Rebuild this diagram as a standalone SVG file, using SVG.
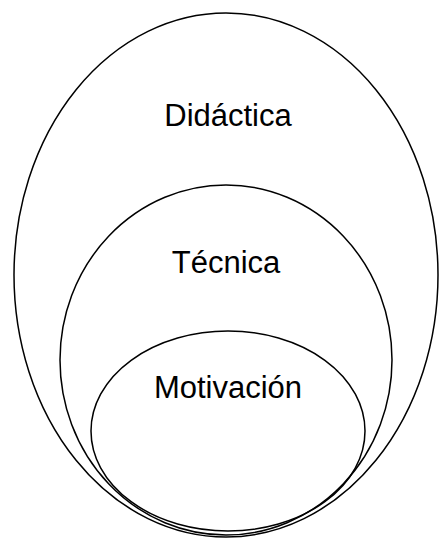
<svg xmlns="http://www.w3.org/2000/svg" width="439" height="539" viewBox="0 0 439 539">
<style>
.e{fill:none;stroke:#000;stroke-width:1.5}
.t{font-family:"Liberation Sans",Arial,sans-serif;font-size:31px;fill:#000;text-anchor:middle}
</style>
<rect width="439" height="539" fill="#fff"/>
<g id="didactica">
<ellipse class="e" cx="226" cy="275" rx="212" ry="262"/>
<text class="t" x="228" y="126">Didáctica</text>
</g>
<g id="tecnica">
<ellipse class="e" cx="226" cy="360" rx="166" ry="175"/>
<text class="t" x="226" y="273">Técnica</text>
</g>
<g id="motivacion">
<ellipse class="e" cx="228" cy="431" rx="137" ry="100"/>
<text class="t" x="228" y="398">Motivación</text>
</g>
<g id="connectors"/>
</svg>
